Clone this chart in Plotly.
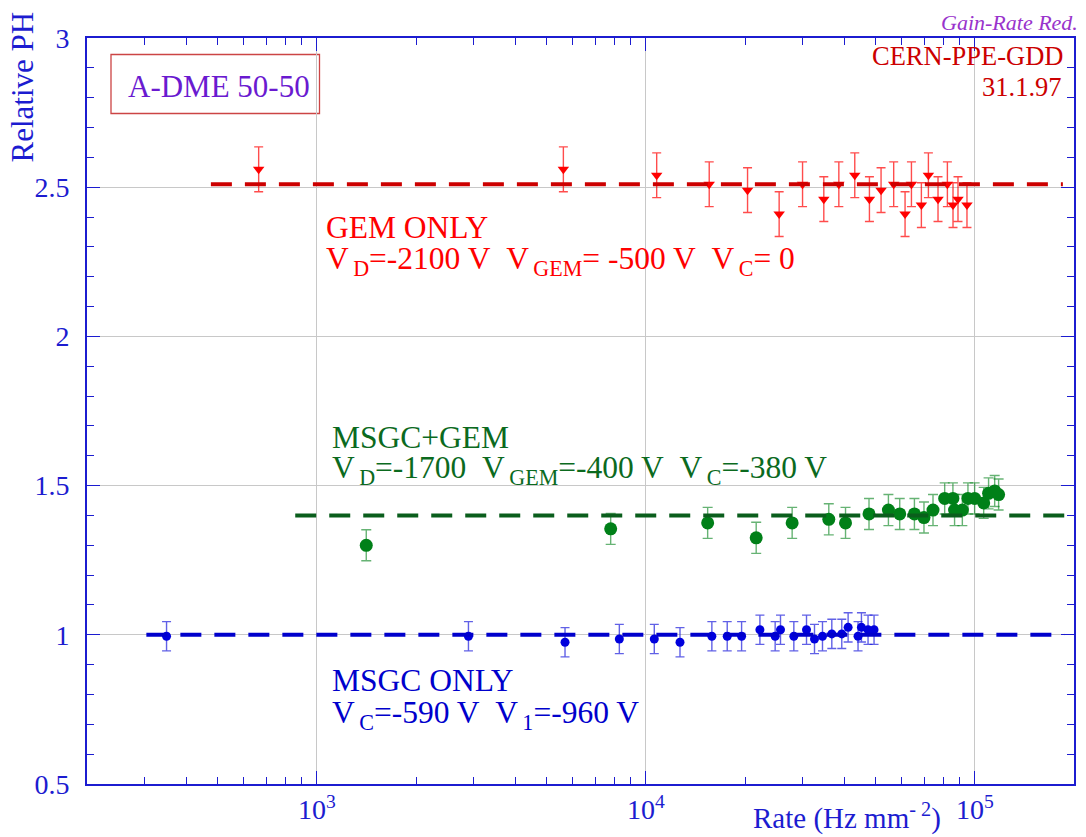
import math
import plotly.graph_objects as go

# ---------------- data ----------------
gem_rate = [665, 5610, 10780, 15570, 20360, 25400, 29920, 34720, 38570, 43120, 47780,
            51830, 56620, 61310, 64110, 68730, 72190, 77220, 82450, 85760, 88800, 94560]
gem_ph = [2.56, 2.56, 2.54, 2.51, 2.49, 2.41, 2.51, 2.46, 2.51, 2.54, 2.46,
          2.49, 2.51, 2.41, 2.51, 2.44, 2.54, 2.46, 2.51, 2.44, 2.46, 2.44]
GEM_ERR = 0.075

msgc_gem_rate = [1412, 7812, 15400, 21630, 27820, 35950, 40420, 47640, 54570, 59060, 65460,
                 69990, 74550, 80900, 85700, 86700, 91550, 95210, 99770, 106300, 110000,
                 114800, 118000]
msgc_gem_ph = [1.30, 1.355, 1.375, 1.325, 1.375, 1.387, 1.375, 1.405, 1.418, 1.405, 1.405,
               1.393, 1.418, 1.457, 1.457, 1.418, 1.418, 1.457, 1.457, 1.442, 1.474,
               1.482, 1.47]
MSGC_GEM_ERR = 0.052

msgc_rate = [349, 2887, 5675, 8300, 10600, 12690, 15860, 17660, 19530, 22200, 24700, 25640,
             28150, 30760, 32530, 34400, 36720, 39370, 41160, 44120, 45180, 47320, 49350]
msgc_ph = [0.995, 0.995, 0.975, 0.986, 0.986, 0.975, 0.995, 0.995, 0.995, 1.017, 0.995, 1.017,
           0.995, 1.017, 0.986, 0.995, 1.003, 1.003, 1.025, 0.995, 1.025, 1.017, 1.017]
MSGC_ERR = 0.049

gem_fit_x, gem_fit_y = [476, 185000], [2.51, 2.51]
msgc_gem_fit_x, msgc_gem_fit_y = [859, 193000], [1.40, 1.40]
msgc_fit_x, msgc_fit_y = [303, 187000], [1.0, 1.0]

x_range = [200, 200000]
y_range = [0.5, 3.0]
x_tickvals = [1e3, 1e4, 1e5]
x_ticktext = ["10<sup>3</sup>", "10<sup>4</sup>", "10<sup>5</sup>"]
y_tickvals = [0.5, 1.0, 1.5, 2.0, 2.5, 3.0]
y_ticktext = ["0.5", "1", "1.5", "2", "2.5", "3"]

# ---------------- layout helpers ----------------
W, H = 1086, 837
L, R, T, B = 87, 1074, 38, 784


def px(x):
    return (x - L) / (R - L)


def py(y):
    return (B - y) / (B - T)


FONT = "Liberation Serif"
AXC = "#1c1cd0"
NBSP = "\u00a0"
THIN = "\u2009"

fig = go.Figure()


def add_points(x, y, err, symbol, size, color, ecolor, capw):
    fig.add_trace(go.Scatter(
        x=x, y=y, mode="markers",
        marker=dict(symbol=symbol, size=size, color=color, line=dict(width=0)),
        error_y=dict(type="constant", value=err, color=ecolor, thickness=1.4, width=capw),
        showlegend=False, hoverinfo="skip"))


def add_fit(x, y, color):
    fig.add_trace(go.Scatter(
        x=x, y=y, mode="lines",
        line=dict(color=color, width=4, dash="21px,13px"),
        showlegend=False, hoverinfo="skip"))


add_points(gem_rate, gem_ph, GEM_ERR, "triangle-down", 10, "#ff0000", "rgba(255,0,0,0.7)", 4.5)
add_points(msgc_gem_rate, msgc_gem_ph, MSGC_GEM_ERR, "circle", 13, "#008018", "rgba(0,128,24,0.6)", 5)
add_points(msgc_rate, msgc_ph, MSGC_ERR, "circle", 9, "#0000dd", "rgba(30,30,220,0.7)", 4.5)
add_fit(gem_fit_x, gem_fit_y, "#cc0000")
add_fit(msgc_gem_fit_x, msgc_gem_fit_y, "#0a5e1c")
add_fit(msgc_fit_x, msgc_fit_y, "#0000cc")

shapes = []
# masks that interrupt the grid behind text
for (x0, y0, x1, y1) in [(322, 210, 796, 292), (328, 420, 797, 500), (968, 38, 1072, 100)]:
    shapes.append(dict(type="rect", xref="paper", yref="paper", x0=px(x0), x1=px(x1),
                       y0=py(y1), y1=py(y0), fillcolor="white", line=dict(width=0),
                       layer="between"))
# A-DME box
shapes.append(dict(type="rect", xref="paper", yref="paper", x0=px(111), x1=px(319.5),
                   y0=py(113.5), y1=py(54.5), fillcolor="white",
                   line=dict(color="#cc4444", width=1.3), layer="between"))

annotations = []


def text(x, y, s, size, color, xanchor="left", italic=False, angle=0, yanchor="top"):
    annotations.append(dict(
        xref="paper", yref="paper", x=px(x), y=py(y), text=s, showarrow=False,
        xanchor=xanchor, yanchor=yanchor, borderpad=0, textangle=angle,
        font=dict(family=FONT, size=size, color=color,
                  style="italic" if italic else "normal")))


GS = 31.5
sp2 = NBSP + NBSP
sub = lambda s: "<sub>" + THIN + s + "</sub>"
text(325, 209, "GEM ONLY", GS, "#ff0000")
text(325, 240, "V" + sub("D") + "=-2100 V" + sp2 + "V" + sub("GEM") + "= -500 V" + sp2 + "V" + sub("C") + "= 0",
     GS, "#ff0000")
text(330.5, 419, "MSGC+GEM", GS, "#0b6a1e")
text(330.5, 448.5, "V" + sub("D") + "=-1700" + sp2 + "V" + sub("GEM") + "=-400 V" + sp2 + "V" + sub("C") + "=-380 V",
     GS, "#0b6a1e")
text(330.5, 662, "MSGC ONLY", GS, "#0000cc")
text(330.5, 693.5, "V" + sub("C") + "=-590 V" + sp2 + "V" + sub("1") + "=-960 V", GS, "#0000cc")
text(127, 68, "A-DME 50-50", 31, "#6a1ad0")
text(1064, 40.5, "CERN-PPE-GDD", 26.5, "#cc0000", xanchor="right")
text(1063, 71.5, "31.1.97", 26.5, "#cc0000", xanchor="right")
text(1079, 9, "Gain-Rate Red.", 22, "#9933cc", xanchor="right", italic=True)
text(942, 797, "Rate (Hz mm<sup>- 2</sup>)", 29, AXC, xanchor="right")
text(22, 87.5, "Relative PH", 31, AXC, xanchor="center", yanchor="middle", angle=-90)

axis_common = dict(
    ticks="inside", ticklen=13, tickwidth=1.4, tickcolor=AXC,
    showline=True, linecolor=AXC, linewidth=1.6, mirror="ticks",
    showgrid=True, gridcolor="#c8c8c8", gridwidth=1, zeroline=False,
    tickfont=dict(family=FONT, size=28, color=AXC),
)

fig.update_layout(
    width=W, height=H, autosize=False,
    margin=dict(l=L, r=W - R, t=T, b=H - B, autoexpand=False),
    paper_bgcolor="white", plot_bgcolor="white",
    xaxis=dict(type="log", range=[math.log10(x_range[0]), math.log10(x_range[1])],
               tickmode="array", tickvals=x_tickvals, ticktext=x_ticktext,
               minor=dict(ticks="inside", ticklen=7, tickwidth=1.2, tickcolor=AXC,
                          dtick="D1", showgrid=False),
               ticklabelstandoff=0, **axis_common),
    yaxis=dict(range=y_range, tickmode="array", tickvals=y_tickvals, ticktext=y_ticktext,
               minor=dict(ticks="inside", ticklen=7, tickwidth=1.2, tickcolor=AXC,
                          dtick=0.1, showgrid=False),
               ticklabelstandoff=10, **axis_common),
    shapes=shapes, annotations=annotations, showlegend=False,
)

fig.write_html("out.html")
